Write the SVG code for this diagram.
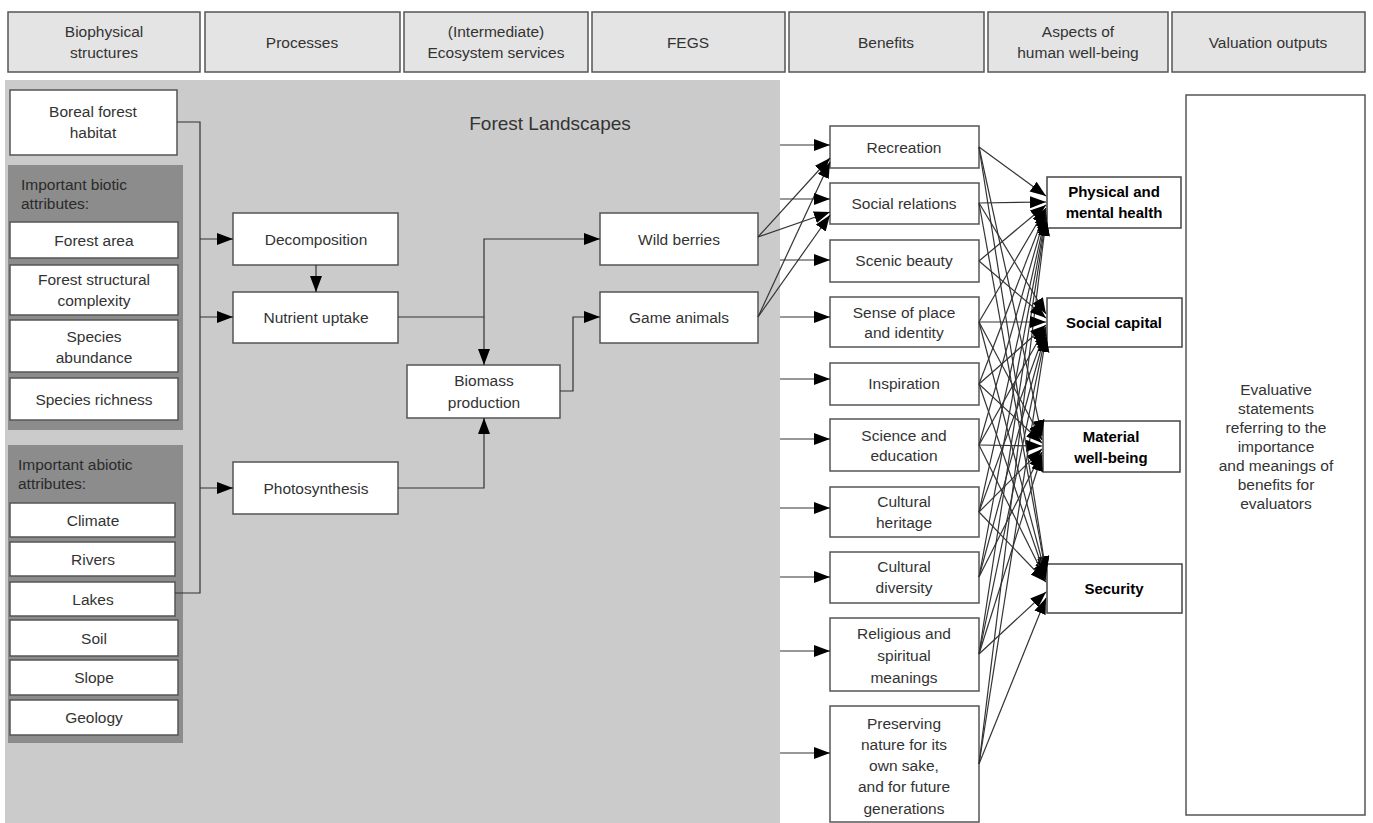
<svg xmlns="http://www.w3.org/2000/svg" width="1373" height="823" viewBox="0 0 1373 823">
<style>
text{font-family:"Liberation Sans",Arial,sans-serif;font-size:15.5px;fill:#333;text-anchor:middle}
.hdr rect{fill:#e4e4e4;stroke:#555;stroke-width:1.5}
.box{fill:#fff;stroke:#555;stroke-width:1.5}
.panel{fill:#8c8c8c}
.lbl{text-anchor:start;fill:#2a2a2a}
.wb{fill:#fff;stroke:#444;stroke-width:1.5}
.wbt{font-weight:bold;fill:#000;font-size:15px}
.c{fill:none;stroke:#333;stroke-width:1.2}
</style>
<defs>
<marker id="ah" markerUnits="userSpaceOnUse" markerWidth="17" markerHeight="13" refX="16" refY="6" orient="auto">
<path d="M0,0 L16,6 L0,12 z" fill="#000"/>
</marker>
</defs>
<rect width="1373" height="823" fill="#fff"/>
<!-- header -->
<g id="headers" class="hdr">
<rect x="8" y="12" width="192" height="60"/>
<rect x="205" y="12" width="195" height="60"/>
<rect x="404" y="12" width="184" height="60"/>
<rect x="592" y="12" width="193" height="60"/>
<rect x="789" y="12" width="195" height="60"/>
<rect x="988" y="12" width="180" height="60"/>
<rect x="1172" y="12" width="193" height="60"/>
<text x="104" y="37">Biophysical</text><text x="104" y="58">structures</text>
<text x="302" y="48">Processes</text>
<text x="496" y="37">(Intermediate)</text><text x="496" y="58">Ecosystem services</text>
<text x="688" y="48">FEGS</text>
<text x="886" y="48">Benefits</text>
<text x="1078" y="37">Aspects of</text><text x="1078" y="58">human well-being</text>
<text x="1268" y="48">Valuation outputs</text>
</g>
<!-- forest landscape area -->
<g id="forest-landscapes">
<rect x="5" y="80" width="775" height="743" fill="#cbcbcb"/>
<text x="550" y="130" style="font-size:19px">Forest Landscapes</text>
</g>
<g id="boreal"><rect class="box" x="10" y="90" width="167" height="65"/><text x="93" y="117">Boreal forest</text><text x="93" y="138">habitat</text></g>
<g id="biotic">
<rect class="panel" x="8" y="165" width="175" height="265"/>
<text class="lbl" x="21" y="190">Important biotic</text><text class="lbl" x="21" y="209">attributes:</text>
<rect class="box" x="10" y="222" width="168" height="36"/><text x="94" y="246">Forest area</text>
<rect class="box" x="10" y="265" width="168" height="50"/><text x="94" y="285">Forest structural</text><text x="94" y="306">complexity</text>
<rect class="box" x="10" y="320" width="168" height="52"/><text x="94" y="342">Species</text><text x="94" y="363">abundance</text>
<rect class="box" x="10" y="378" width="168" height="42"/><text x="94" y="405">Species richness</text>
</g>
<g id="abiotic">
<rect class="panel" x="8" y="445" width="175" height="298"/>
<text class="lbl" x="18" y="470">Important abiotic</text><text class="lbl" x="18" y="489">attributes:</text>
<rect class="box" x="10" y="503" width="165" height="34"/><text x="93" y="526">Climate</text>
<rect class="box" x="10" y="542" width="165" height="34"/><text x="93" y="565">Rivers</text>
<rect class="box" x="10" y="582" width="165" height="34"/><text x="93" y="605">Lakes</text>
<rect class="box" x="10" y="620" width="168" height="36"/><text x="94" y="644">Soil</text>
<rect class="box" x="10" y="660" width="168" height="35"/><text x="94" y="683">Slope</text>
<rect class="box" x="10" y="700" width="168" height="35"/><text x="94" y="723">Geology</text>
</g>
<g id="decomposition"><rect class="box" x="233" y="213" width="165" height="52"/><text x="316" y="245">Decomposition</text></g>
<g id="nutrient-uptake"><rect class="box" x="233" y="292" width="165" height="51"/><text x="316" y="323">Nutrient uptake</text></g>
<g id="photosynthesis"><rect class="box" x="233" y="462" width="165" height="52"/><text x="316" y="494">Photosynthesis</text></g>
<g id="biomass"><rect class="box" x="407" y="365" width="153" height="53"/><text x="484" y="386">Biomass</text><text x="484" y="408">production</text></g>
<g id="wild-berries"><rect class="box" x="600" y="213" width="158" height="52"/><text x="679" y="245">Wild berries</text></g>
<g id="game-animals"><rect class="box" x="600" y="292" width="158" height="51"/><text x="679" y="323">Game animals</text></g>
<!-- benefits -->
<g id="recreation"><rect class="box" x="830" y="126" width="149" height="42"/><text x="904" y="153">Recreation</text></g>
<g id="social-relations"><rect class="box" x="830" y="183" width="149" height="41"/><text x="904" y="209">Social relations</text></g>
<g id="scenic-beauty"><rect class="box" x="830" y="240" width="149" height="42"/><text x="904" y="266">Scenic beauty</text></g>
<g id="sense-of-place"><rect class="box" x="830" y="297" width="149" height="50"/><text x="904" y="318">Sense of place</text><text x="904" y="338">and identity</text></g>
<g id="inspiration"><rect class="box" x="830" y="363" width="149" height="42"/><text x="904" y="389">Inspiration</text></g>
<g id="science"><rect class="box" x="830" y="419" width="149" height="52"/><text x="904" y="441">Science and</text><text x="904" y="461">education</text></g>
<g id="cultural-heritage"><rect class="box" x="830" y="487" width="149" height="50"/><text x="904" y="507">Cultural</text><text x="904" y="528">heritage</text></g>
<g id="cultural-diversity"><rect class="box" x="830" y="552" width="149" height="51"/><text x="904" y="572">Cultural</text><text x="904" y="593">diversity</text></g>
<g id="religious"><rect class="box" x="830" y="618" width="149" height="73"/><text x="904" y="639">Religious and</text><text x="904" y="661">spiritual</text><text x="904" y="683">meanings</text></g>
<g id="preserving"><rect class="box" x="830" y="706" width="149" height="116"/><text x="904" y="729">Preserving</text><text x="904" y="750">nature for its</text><text x="904" y="771">own sake,</text><text x="904" y="792">and for future</text><text x="904" y="814">generations</text></g>
<!-- well-being -->
<g id="physical-mental-health"><rect class="wb" x="1047" y="177" width="134" height="51"/><text class="wbt" x="1114" y="197">Physical and</text><text class="wbt" x="1114" y="218">mental health</text></g>
<g id="social-capital"><rect class="wb" x="1047" y="298" width="135" height="49"/><text class="wbt" x="1114" y="328">Social capital</text></g>
<g id="material-well-being"><rect class="wb" x="1043" y="421" width="137" height="51"/><text class="wbt" x="1111" y="442">Material</text><text class="wbt" x="1111" y="463">well-being</text></g>
<g id="security"><rect class="wb" x="1047" y="564" width="135" height="49"/><text class="wbt" x="1114" y="594">Security</text></g>
<g id="valuation"><rect x="1186" y="95" width="179" height="720" fill="#fff" stroke="#555" stroke-width="1.5"/>
<text x="1276" y="395">Evaluative</text><text x="1276" y="414">statements</text><text x="1276" y="433">referring to the</text><text x="1276" y="452">importance</text><text x="1276" y="471">and meanings of</text><text x="1276" y="490">benefits for</text><text x="1276" y="509">evaluators</text>
</g>
<!-- connectors -->
<g id="connectors" class="c">
<path d="M177 122 H200 V593 H175"/>
<path d="M200 239 H233" marker-end="url(#ah)"/>
<path d="M200 317 H233" marker-end="url(#ah)"/>
<path d="M200 488 H233" marker-end="url(#ah)"/>
<path d="M316 265 V292" marker-end="url(#ah)"/>
<path d="M398 317 H484 V239 H600" marker-end="url(#ah)"/>
<path d="M484 317 V365" marker-end="url(#ah)"/>
<path d="M398 488 H484 V418" marker-end="url(#ah)"/>
<path d="M560 391 H573 V317 H600" marker-end="url(#ah)"/>
<path d="M758 237 L830 158" marker-end="url(#ah)"/>
<path d="M758 237 L830 212" marker-end="url(#ah)"/>
<path d="M758 317 L830 162" marker-end="url(#ah)"/>
<path d="M758 317 L830 215" marker-end="url(#ah)"/>
<path d="M780 145 H830" marker-end="url(#ah)"/>
<path d="M780 199 H830" marker-end="url(#ah)"/>
<path d="M780 260 H830" marker-end="url(#ah)"/>
<path d="M780 317 H830" marker-end="url(#ah)"/>
<path d="M780 379 H830" marker-end="url(#ah)"/>
<path d="M780 439 H830" marker-end="url(#ah)"/>
<path d="M780 508 H830" marker-end="url(#ah)"/>
<path d="M780 577 H830" marker-end="url(#ah)"/>
<path d="M780 651 H830" marker-end="url(#ah)"/>
<path d="M780 753 H830" marker-end="url(#ah)"/>
<!-- to physical and mental health -->
<path d="M979 147 L1046 196" marker-end="url(#ah)"/>
<path d="M979 203 L1046 202" marker-end="url(#ah)"/>
<path d="M979 261 L1046 205" marker-end="url(#ah)"/>
<path d="M979 322 L1046 208" marker-end="url(#ah)"/>
<path d="M979 384 L1046 210" marker-end="url(#ah)"/>
<path d="M979 445 L1046 212" marker-end="url(#ah)"/>
<path d="M979 512 L1046 214" marker-end="url(#ah)"/>
<path d="M979 577 L1046 216" marker-end="url(#ah)"/>
<path d="M979 654 L1046 218" marker-end="url(#ah)"/>
<path d="M979 764 L1046 220" marker-end="url(#ah)"/>
<!-- to social capital -->
<path d="M979 203 L1046 314" marker-end="url(#ah)"/>
<path d="M979 261 L1046 318" marker-end="url(#ah)"/>
<path d="M979 322 L1046 322" marker-end="url(#ah)"/>
<path d="M979 384 L1046 325" marker-end="url(#ah)"/>
<path d="M979 445 L1046 327" marker-end="url(#ah)"/>
<path d="M979 512 L1046 329" marker-end="url(#ah)"/>
<path d="M979 577 L1046 331" marker-end="url(#ah)"/>
<path d="M979 654 L1046 333" marker-end="url(#ah)"/>
<path d="M979 764 L1046 336" marker-end="url(#ah)"/>
<!-- to material well-being -->
<path d="M979 147 L1042 436" marker-end="url(#ah)"/>
<path d="M979 322 L1042 440" marker-end="url(#ah)"/>
<path d="M979 384 L1042 443" marker-end="url(#ah)"/>
<path d="M979 445 L1042 446" marker-end="url(#ah)"/>
<path d="M979 512 L1042 449" marker-end="url(#ah)"/>
<path d="M979 577 L1042 452" marker-end="url(#ah)"/>
<path d="M979 654 L1042 455" marker-end="url(#ah)"/>
<!-- to security -->
<path d="M979 147 L1046 572" marker-end="url(#ah)"/>
<path d="M979 203 L1046 574" marker-end="url(#ah)"/>
<path d="M979 322 L1046 576" marker-end="url(#ah)"/>
<path d="M979 384 L1046 578" marker-end="url(#ah)"/>
<path d="M979 445 L1046 580" marker-end="url(#ah)"/>
<path d="M979 512 L1046 582" marker-end="url(#ah)"/>
<path d="M979 654 L1046 592" marker-end="url(#ah)"/>
<path d="M979 764 L1046 598" marker-end="url(#ah)"/>
</g>
</svg>
